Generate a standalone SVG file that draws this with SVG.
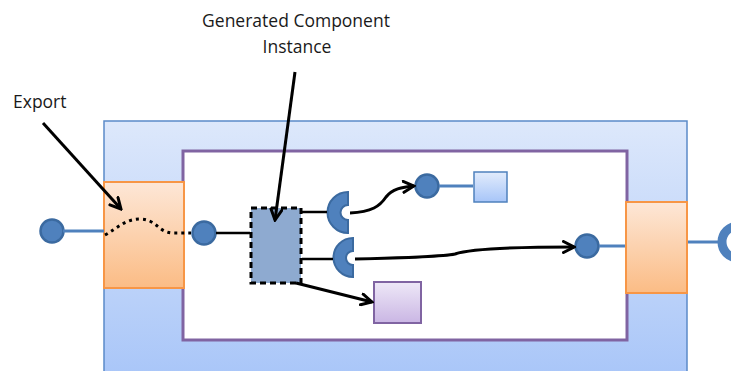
<svg xmlns="http://www.w3.org/2000/svg" width="731" height="371" viewBox="0 0 731 371">
<style>
.lbl{font-family:"Open Sans","Liberation Sans",Arial,sans-serif;font-size:17.5px;fill:#1a1a1a}
.port{fill:#4f81bd;stroke:#3b6aa0;stroke-width:2.5}
.blink{stroke:#4f81bd;stroke-width:3;fill:none}
.blk{stroke:#000;stroke-width:2.5;fill:none}
.arr{stroke:#000;stroke-width:3;fill:none;marker-end:url(#ah)}
.orange{fill:url(#gOr);stroke:#f79646;stroke-width:2}
.sock{fill:#4f81bd;stroke:#3b6aa0;stroke-width:2}
</style>
<defs>
<linearGradient id="gOuter" x1="0" y1="0" x2="0" y2="1"><stop offset="0" stop-color="#dde8fb"/><stop offset="1" stop-color="#a6c4f8"/></linearGradient>
<linearGradient id="gOr" x1="0" y1="0" x2="0" y2="1"><stop offset="0" stop-color="#fde7d7"/><stop offset="1" stop-color="#fbbc85"/></linearGradient>
<linearGradient id="gBl" x1="0" y1="0" x2="0" y2="1"><stop offset="0" stop-color="#e2ecfc"/><stop offset="1" stop-color="#a7c5f8"/></linearGradient>
<linearGradient id="gPu" x1="0" y1="0" x2="0" y2="1"><stop offset="0" stop-color="#eee8f7"/><stop offset="1" stop-color="#cab6e4"/></linearGradient>
<marker id="ah" viewBox="0 0 14 14" refX="12" refY="7" markerWidth="14" markerHeight="14" markerUnits="userSpaceOnUse" orient="auto">
<path d="M1.5,1.5 L12,7 L1.5,12.5" fill="none" stroke="#000" stroke-width="3" stroke-linejoin="miter" stroke-linecap="round"/>
</marker>
</defs>
<g id="outer"><rect x="104" y="121" width="583" height="270" fill="url(#gOuter)" stroke="#5b8ac9" stroke-width="1.5"/></g>
<g id="inner"><rect x="183" y="151" width="444" height="189" fill="#fff" stroke="#8064a2" stroke-width="3"/></g>
<g id="orangeL"><rect class="orange" x="104" y="182" width="80" height="106"/></g>
<g id="orangeR"><rect class="orange" x="626" y="202" width="61" height="91"/></g>
<g id="portL"><circle class="port" cx="52" cy="231" r="11.5"/></g>
<g id="portIn"><circle class="port" cx="204" cy="233" r="11.5"/></g>
<g id="portUp"><circle class="port" cx="427" cy="186" r="11.5"/></g>
<g id="portR"><circle class="port" cx="587" cy="246" r="11.5"/></g>
<g id="portFar"><circle cx="738" cy="242" r="16" fill="#fff" stroke="#4f81bd" stroke-width="9"/></g>
<g id="instance"><rect x="251" y="208" width="50" height="75" fill="#8eaad0" stroke="#000" stroke-width="3" stroke-dasharray="6,4"/></g>
<g id="socketUp"><path class="sock" d="M348,192 A20.5,20.5 0 0 0 348,233 L348,220 A7.5,7.5 0 0 1 348,205 Z"/></g>
<g id="socketDn"><path class="sock" d="M353,238 A19.5,19.5 0 0 0 353,277 L353,265 A7,7 0 0 1 353,251 Z"/></g>
<g id="blueSq"><rect x="474" y="172" width="33" height="30" fill="url(#gBl)" stroke="#4f81bd" stroke-width="1.5"/></g>
<g id="purpleSq"><rect x="374" y="282" width="47" height="41" fill="url(#gPu)" stroke="#8064a2" stroke-width="2"/></g>
<g id="connectors">
<line class="blink" x1="63" y1="231" x2="104" y2="231"/>
<line class="blink" x1="688" y1="242" x2="718" y2="242"/>
<line class="blink" x1="599" y1="246" x2="625" y2="246"/>
<line class="blink" x1="439" y1="186" x2="473" y2="186"/>
<line class="blk" x1="216" y1="233" x2="250" y2="233"/>
<line class="blk" x1="302" y1="212" x2="327" y2="212"/>
<line class="blk" x1="302" y1="259" x2="333" y2="259"/>
<path d="M105,235 C118,228 125,219 140,219 C156,219 158,232 172,233 L191,233" stroke="#000" stroke-width="3" fill="none" stroke-dasharray="3,4"/>
<path class="arr" d="M350,213 C372,212 380,206 386,197 C392,189 402,187 414,186"/>
<path class="arr" d="M355,259 C400,258 440,257 455,254 C470,249 520,247 574,247"/>
<path class="arr" d="M296,283 L372,302"/>
<path class="arr" d="M43,123 L121,209"/>
<path class="arr" d="M295,72 L275,220"/>
</g>
<g id="labels">
<text class="lbl" x="13" y="108">Export</text>
<text class="lbl" x="296" y="27" text-anchor="middle">Generated Component</text>
<text class="lbl" x="297" y="53" text-anchor="middle">Instance</text>
</g>
</svg>
